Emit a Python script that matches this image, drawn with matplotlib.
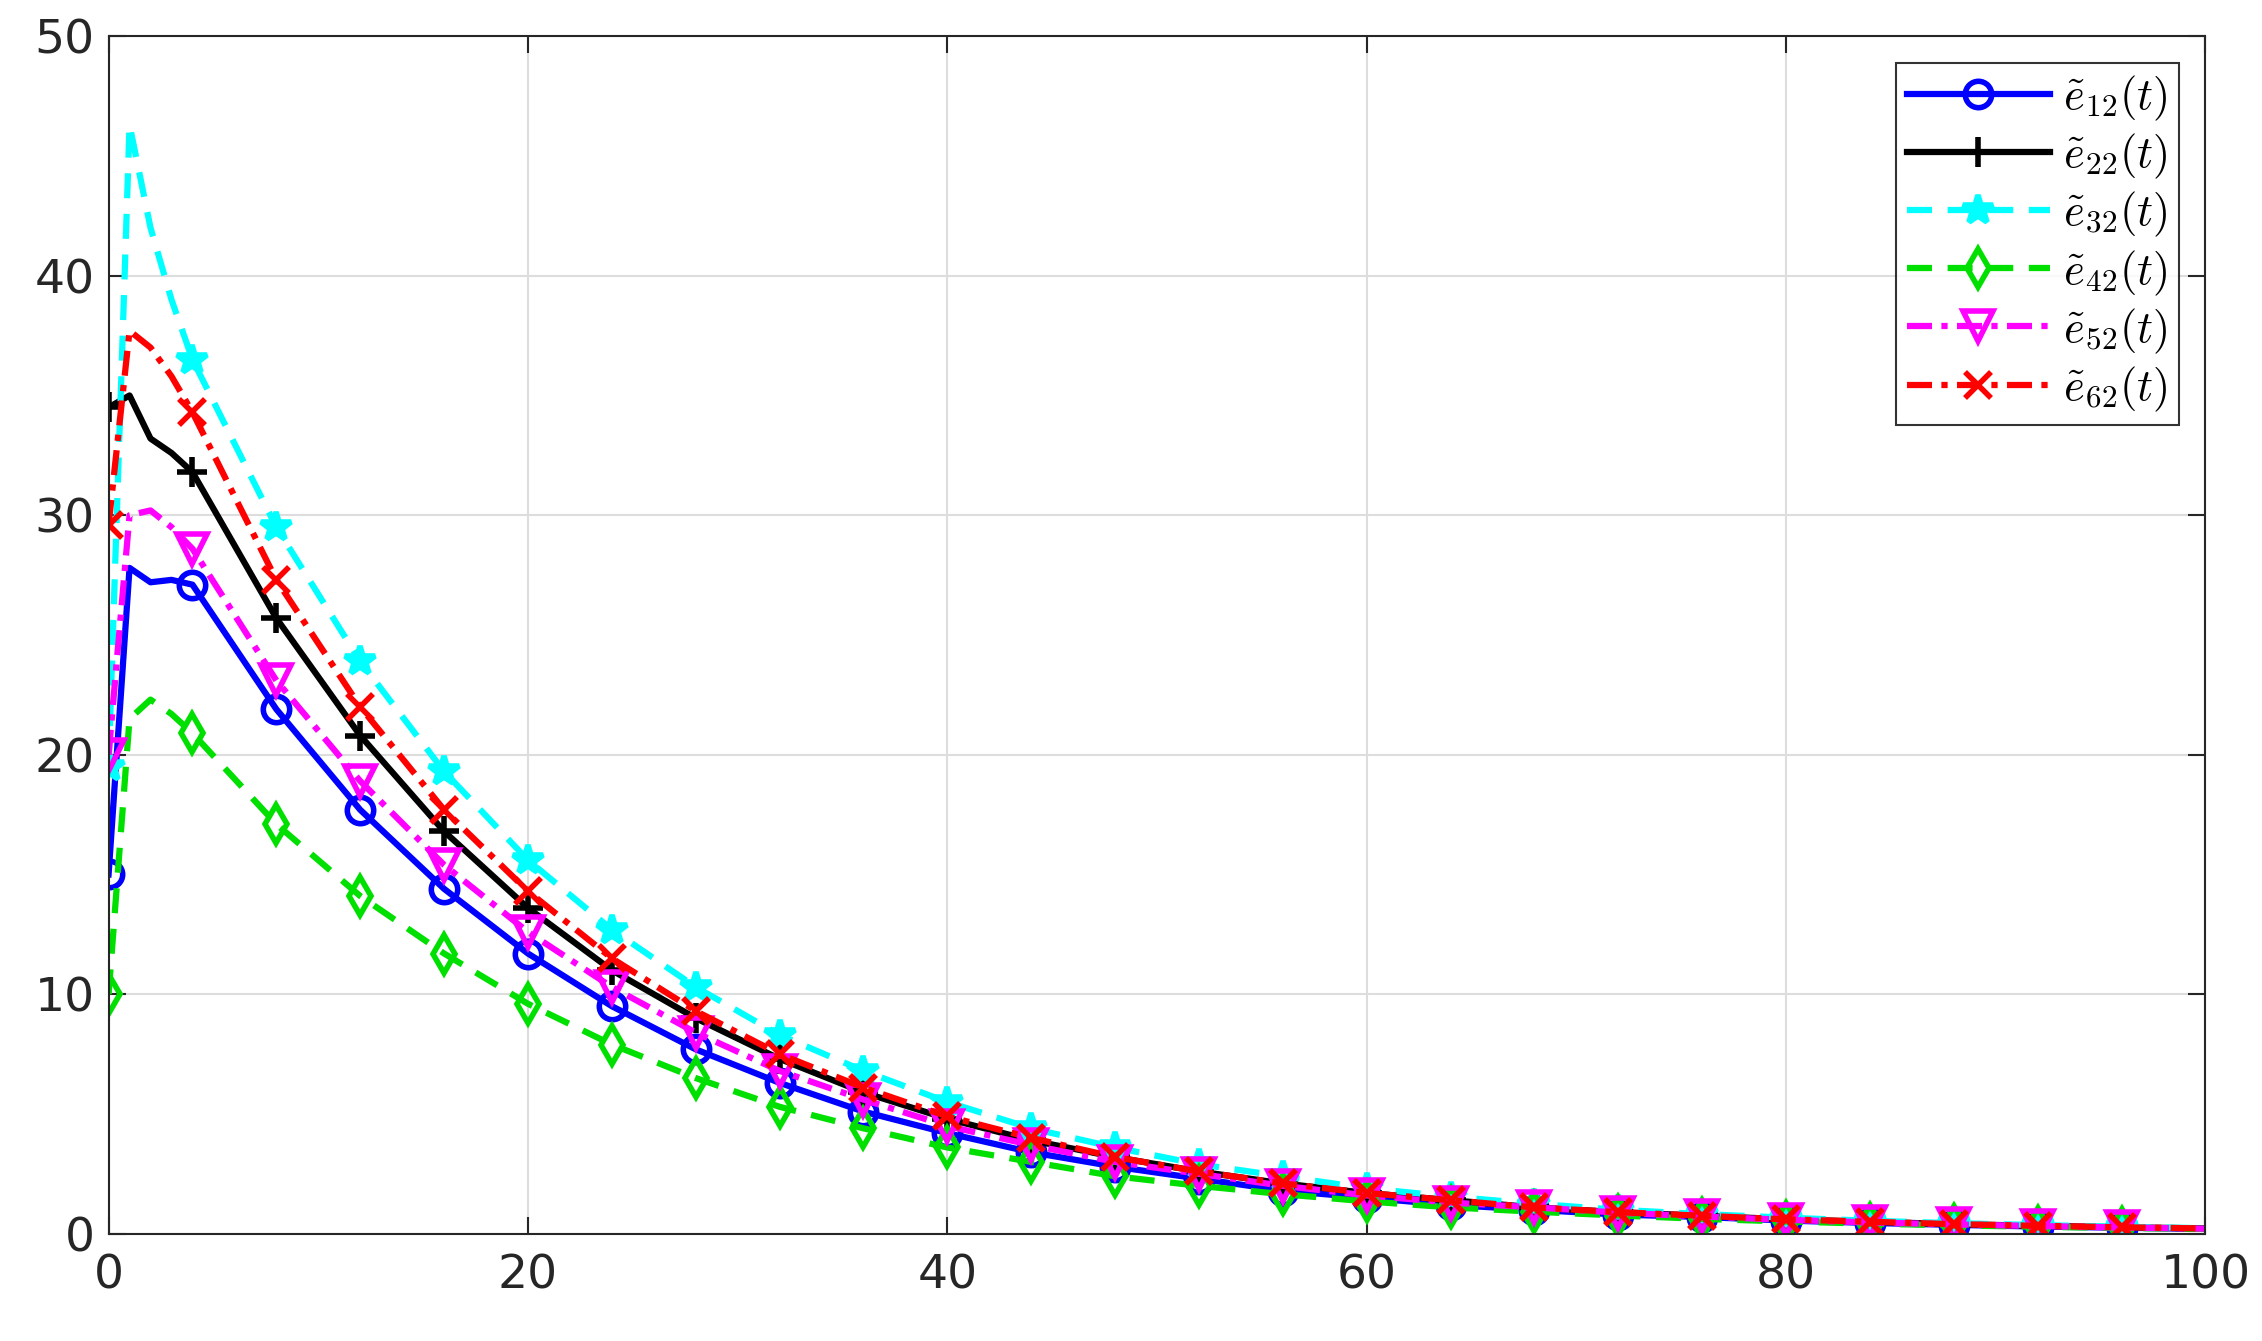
import numpy as np
import matplotlib.pyplot as plt

t = [0, 1, 2, 3, 4, 8, 12, 16, 20, 24, 28, 32, 36, 40, 44, 48, 52, 56, 60, 64, 68, 72, 76, 80, 84, 88, 92, 96, 100]
e12 = [15, 27.8, 27.2, 27.3, 27.1, 21.9, 17.7, 14.4, 11.7, 9.5, 7.7, 6.3, 5.1, 4.2, 3.4, 2.8, 2.3, 1.8, 1.5, 1.2, 1.0, 0.8, 0.7, 0.55, 0.45, 0.37, 0.3, 0.25, 0.2]
e22 = [34.5, 35, 33.2, 32.6, 31.8, 25.7, 20.8, 16.8, 13.6, 11, 9, 7.3, 5.9, 4.8, 3.9, 3.2, 2.6, 2.1, 1.7, 1.4, 1.1, 0.9, 0.75, 0.6, 0.5, 0.4, 0.33, 0.27, 0.22]
e32 = [19.5, 46.3, 42, 39, 36.5, 29.5, 23.9, 19.3, 15.6, 12.7, 10.3, 8.3, 6.8, 5.5, 4.4, 3.6, 2.9, 2.4, 1.9, 1.55, 1.25, 1.0, 0.82, 0.67, 0.54, 0.44, 0.36, 0.29, 0.23]
e42 = [10, 21.5, 22.3, 21.7, 20.9, 17.1, 14.1, 11.7, 9.6, 7.9, 6.5, 5.3, 4.4, 3.6, 3.0, 2.4, 2.0, 1.65, 1.35, 1.1, 0.92, 0.76, 0.62, 0.51, 0.42, 0.35, 0.29, 0.24, 0.2]
e52 = [20, 30, 30.2, 29.5, 28.6, 23.1, 18.9, 15.4, 12.6, 10.3, 8.4, 6.8, 5.6, 4.5, 3.7, 3.0, 2.5, 2.0, 1.6, 1.3, 1.1, 0.88, 0.72, 0.58, 0.47, 0.39, 0.32, 0.26, 0.21]
e62 = [29.6, 37.7, 37, 35.8, 34.3, 27.3, 22, 17.7, 14.3, 11.5, 9.3, 7.5, 6.1, 4.9, 4.0, 3.2, 2.6, 2.1, 1.7, 1.4, 1.1, 0.9, 0.75, 0.6, 0.5, 0.4, 0.33, 0.27, 0.22]

labels = [r'$\tilde{e}_{12}(t)$', r'$\tilde{e}_{22}(t)$', r'$\tilde{e}_{32}(t)$',
          r'$\tilde{e}_{42}(t)$', r'$\tilde{e}_{52}(t)$', r'$\tilde{e}_{62}(t)$']
# colour, dash pattern, marker, filled
styles = [('#0000ff', '-', 'o', False), ('#000000', '-', '+', False),
          ('#00ffff', (0, (4, 2.5)), '*', True), ('#00e000', (0, (4, 2.5)), 'd', False),
          ('#ff00ff', (0, (4, 1.5, 1, 1.5)), 'v', False), ('#ff0000', (0, (4, 1.5, 1, 1.5)), 'x', False)]

plt.rcParams['mathtext.fontset'] = 'cm'
fig = plt.figure(figsize=(22.62, 13.41), dpi=100)
ax = fig.add_axes([0.048, 0.08, 0.927, 0.893])

marks = [i for i, tv in enumerate(t) if tv % 4 == 0 and tv < 100]
for y, lab, (c, ls, m, filled) in zip([e12, e22, e32, e42, e52, e62], labels, styles):
    ms = 22 if m in ('*', 'v', '+') else 19
    ax.plot(t, y, color=c, linestyle=ls, marker=m, markevery=marks, lw=4.5,
            ms=ms, mew=4, mfc=c if filled else 'none', label=lab)

ax.set_xlim(0, 100)
ax.set_ylim(0, 50)
ax.set_xticks(range(0, 101, 20))
ax.set_yticks(range(0, 51, 10))
ax.grid(True, color='#dddddd', lw=1.5)
ax.tick_params(labelsize=34, length=12, width=1.5, direction='in', top=True, right=True,
               colors='#262626')
ax.tick_params(axis='x', pad=14)
ax.tick_params(axis='y', pad=10)
for s in ax.spines.values():
    s.set_linewidth(1.5)
    s.set_color('#262626')
leg = ax.legend(loc='upper right', fontsize=32, handlelength=3.2, handletextpad=0.3,
                fancybox=False, edgecolor='k', borderaxespad=0.6, labelspacing=0.2,
                borderpad=0.25)
leg.get_frame().set_linewidth(1.5)

fig.savefig('out.png')
